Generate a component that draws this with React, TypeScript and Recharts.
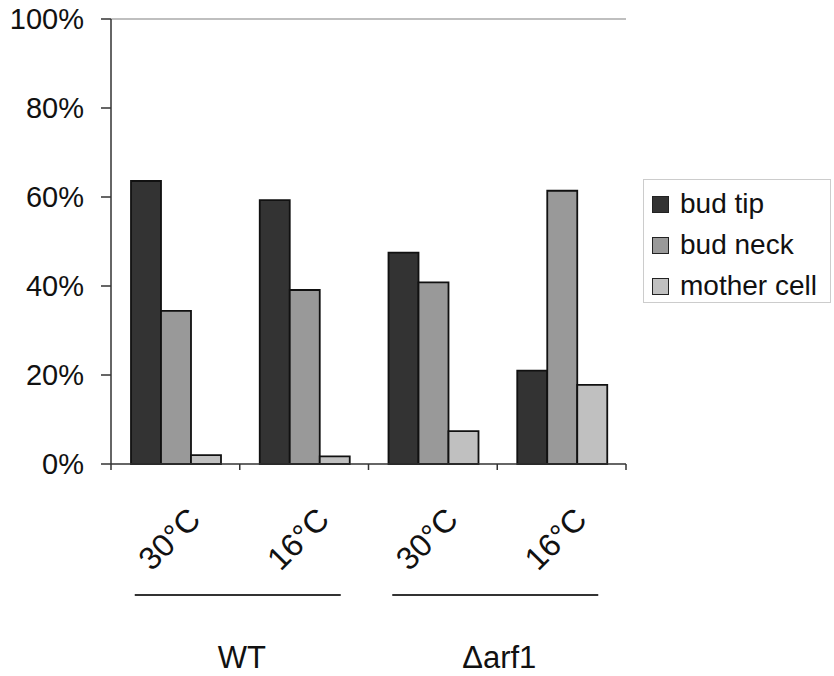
import { BarChart, Bar, XAxis, YAxis, ReferenceLine } from 'recharts';

const temps = ['30°C', '16°C', '30°C', '16°C'];
const groups = ['WT', 'Δarf1'];
const budTip = [63.6, 59.3, 47.5, 21.0];
const budNeck = [34.4, 39.1, 40.8, 61.4];
const motherCell = [2.0, 1.7, 7.4, 17.8];
const yTicks = [0, 20, 40, 60, 80, 100];

const series = [
  { key: 'tip', name: 'bud tip', fill: '#333333' },
  { key: 'neck', name: 'bud neck', fill: '#999999' },
  { key: 'mother', name: 'mother cell', fill: '#c0c0c0' },
];

const data = temps.map((t, i) => ({ temp: t, tip: budTip[i], neck: budNeck[i], mother: motherCell[i] }));

const W = 834;
const H = 676;
const M = { top: 19, right: 208, left: 0, bottom: 0 };
const Y_W = 111;
const X_H = 212;
const band = (W - M.right - Y_W) / temps.length;
const font = '"Liberation Sans", Arial, sans-serif';

const CatTick = (props: any) => {
  const { x, y, payload, index } = props;
  const left = x - band / 2;
  const right = x + band / 2;
  return (
    <g>
      <line x1={left} y1={y} x2={left} y2={y + 6} stroke="#333" strokeWidth={1.5} />
      {index === temps.length - 1 && <line x1={right} y1={y} x2={right} y2={y + 6} stroke="#333" strokeWidth={1.5} />}
      <g transform={`translate(${x - 6},${y + 75}) rotate(-45)`}>
        <text textAnchor="middle" dominantBaseline="central" fontSize={32} fill="#111" fontFamily={font}>
          {payload.value}
        </text>
      </g>
      {index % 2 === 0 && (
        <g>
          <line x1={right - 105} y1={y + 131} x2={right + 101} y2={y + 131} stroke="#333" strokeWidth={2} />
          <text x={right + 2} y={y + 193} textAnchor="middle" dominantBaseline="central" fontSize={31} fill="#111" fontFamily={font}>
            {groups[index / 2]}
          </text>
        </g>
      )}
    </g>
  );
};

export default function App() {
  return (
    <div style={{ position: 'absolute', left: 0, top: 0, width: W, height: H, background: '#fff' }}>
      <BarChart width={W} height={H} data={data} margin={M} barCategoryGap={20} barGap={0}>
        <XAxis
          dataKey="temp"
          height={X_H}
          tickSize={0}
          tickMargin={0}
          tickLine={false}
          interval={0}
          stroke="#333"
          axisLine={{ stroke: '#333', strokeWidth: 1.5 }}
          tick={<CatTick />}
        />
        <YAxis
          width={Y_W}
          domain={[0, 100]}
          ticks={yTicks}
          tickFormatter={(v) => `${v}%`}
          tickSize={10}
          tickMargin={17}
          axisLine={{ stroke: '#333', strokeWidth: 1.5 }}
          tickLine={{ stroke: '#333', strokeWidth: 1.5 }}
          tick={{ fontSize: 29, fill: '#111', fontFamily: font }}
        />
        <YAxis yAxisId="r" orientation="right" width={0} tick={false} tickLine={false} axisLine={{ stroke: '#aaa', strokeWidth: 1.5 }} />
        <ReferenceLine y={100} stroke="#aaa" strokeWidth={1.5} />
        {series.map((s) => (
          <Bar key={s.key} dataKey={s.key} name={s.name} fill={s.fill} stroke="#111" strokeWidth={1.8} isAnimationActive={false} />
        ))}
      </BarChart>
      <div
        style={{
          position: 'absolute',
          left: 643,
          top: 179,
          width: 188,
          height: 124,
          border: '1px solid #ccc',
          boxSizing: 'border-box',
          fontFamily: font,
          fontSize: 28,
          color: '#111',
        }}
      >
        {series.map((s, i) => (
          <div key={s.key} style={{ position: 'absolute', left: 8, top: 8 + i * 41, height: 32, display: 'flex', alignItems: 'center' }}>
            <span style={{ width: 17, height: 17, background: s.fill, border: '1.5px solid #222', boxSizing: 'border-box', marginRight: 11 }} />
            <span style={{ lineHeight: '32px', whiteSpace: 'nowrap' }}>{s.name}</span>
          </div>
        ))}
      </div>
    </div>
  );
}
